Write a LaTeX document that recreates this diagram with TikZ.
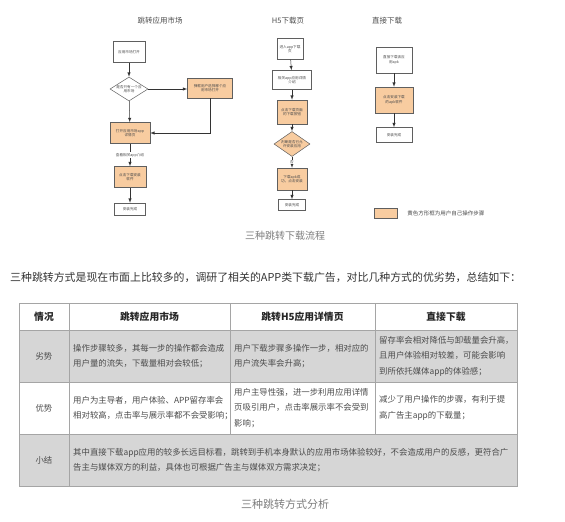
\documentclass[tikz,border=0pt]{standalone}
\usepackage{fontspec}
\setmainfont{Noto Sans CJK SC}
\usepackage{xcolor}
\usepackage{tikz}
\usetikzlibrary{shapes,arrows,positioning,calc}
\definecolor{stepfill}{RGB}{248,204,160}
\definecolor{lineclr}{RGB}{95,95,95}
\definecolor{rowgray}{RGB}{214,214,214}
\definecolor{gridgray}{RGB}{165,165,165}
\definecolor{bodytext}{RGB}{75,75,75}
\definecolor{capgray}{RGB}{125,125,125}

\begin{document}
\begin{tikzpicture}[x=1pt, y=-1pt,
        sysbox/.style={rectangle, draw=lineclr, line width=0.5pt, fill=white, align=center, inner sep=0pt, font=\fontsize{3.6}{4.6}\selectfont, text=bodytext},
        usrbox/.style={sysbox, fill=stepfill},
        choice/.style={diamond, aspect=1.6, draw=lineclr, line width=0.5pt, fill=white, align=center, inner sep=0pt, font=\fontsize{3.6}{4.6}\selectfont, text=bodytext},
        title/.style={font=\fontsize{7.5}{9}\selectfont, text=black!70},
        caption/.style={font=\fontsize{10}{12}\selectfont, text=capgray},
        arrow/.style={->, >=latex, line width=0.5pt, draw=black!80},
        cell/.style={align=left, anchor=west, inner sep=0pt, font=\fontsize{8.4}{15.5}\selectfont, text=bodytext},
        rowname/.style={inner sep=0pt, font=\fontsize{8.4}{10}\selectfont, text=bodytext},
        head/.style={inner sep=0pt, font=\fontsize{9.8}{12}\selectfont\bfseries, text=black!85}]

        \useasboundingbox (0,0) rectangle (565,522);

        % Flow 1
        \node[title] (t1) at (160,21) {跳转应用市场};
        \node[sysbox, minimum width=32, minimum height=21] (a1) at (129,52) {应用市场打开};
        \node[choice, minimum width=38, minimum height=24] (a2) at (129,89) {是否只有一个应\\用市场};
        \node[usrbox, minimum width=45, minimum height=20] (a3) at (210,88) {弹框用户选择哪个应\\用市场打开};
        \node[usrbox, minimum width=40, minimum height=21] (a4) at (130,133) {打开应用市场app\\详情页};
        \node[usrbox, minimum width=32, minimum height=21] (a5) at (130,177) {点击下载安装\\软件};
        \node[sysbox, minimum width=31, minimum height=12] (a6) at (130,209) {安装完成};

        % Flow 2
        \node[title] (t2) at (288,21) {H5下载页};
        \node[sysbox, minimum width=26, minimum height=21] (b1) at (290,49) {进入app下载\\页};
        \node[sysbox, minimum width=39, minimum height=19] (b2) at (292,80) {相关app应用详情\\介绍};
        \node[usrbox, minimum width=30, minimum height=24] (b3) at (292,112) {点击下载页面\\的下载按钮};
        \node[choice, fill=stepfill, minimum width=36, minimum height=25] (b4) at (292,144) {判断是否已允\\许安装应用};
        \node[usrbox, minimum width=30, minimum height=22] (b5) at (292,179) {下载apk成\\功，点击安装};
        \node[sysbox, minimum width=27, minimum height=11] (b6) at (292,205) {安装完成};

        % Flow 3
        \node[title] (t3) at (387,21) {直接下载};
        \node[sysbox, minimum width=36, minimum height=26] (c1) at (394,60) {直接下载该应\\用apk};
        \node[usrbox, minimum width=38, minimum height=26] (c2) at (394,100) {点击安装下载\\的apk软件};
        \node[sysbox, minimum width=36, minimum height=15] (c3) at (394,135) {安装完成};

        % Legend
        \node[usrbox, minimum width=23, minimum height=10] (key) at (385.5,213) {};
        \node[right=10pt of key, inner sep=0pt, font=\fontsize{5.5}{6.5}\selectfont, text=bodytext] (keytext) {黄色方形框为用户自己操作步骤};

        % Connections
        \draw[arrow] (a1) -- (a2);
        \draw[arrow] (a2) -- (a4);
        \draw[arrow] (a2.east) -- (a2.east -| a3.west);
        \draw[arrow] (a3.south) |- (a4.east);
        \draw[arrow] (a4) -- node[fill=white, inner sep=0.6pt, font=\fontsize{3.6}{4.6}\selectfont, text=bodytext]{查看相关app介绍} (a5);
        \draw[arrow] (a5) -- (a6);
        \draw[arrow] (b1) -- (b2);
        \draw[arrow] (b2) -- (b3);
        \draw[arrow] (b3) -- (b4);
        \draw[arrow] (b4) -- node[fill=white, inner sep=0.6pt, font=\fontsize{3.6}{4.6}\selectfont, text=bodytext]{否} (b5);
        \draw[arrow] (b5) -- (b6);
        \draw[arrow] (c1) -- (c2);
        \draw[arrow] (c2) -- (c3);

        \node[caption] (cap1) at (285,236) {三种跳转下载流程};

        \node[anchor=west, inner sep=0pt, font=\fontsize{10.9}{12}\selectfont, text=black!80] (intro) at (10,277) {三种跳转方式是现在市面上比较多的，调研了相关的APP类下载广告，对比几种方式的优劣势，总结如下：};

        % Table
        \fill[rowgray] (19,330) rectangle (517,382);
        \fill[rowgray] (19,434) rectangle (517,486);
        \draw[gridgray, line width=0.6pt] (19,303) rectangle (517,486);
        \foreach \y in {330,382,434}
            \draw[gridgray, line width=0.6pt] (19,\y) -- (517,\y);
        \draw[gridgray, line width=0.6pt] (69,303) -- (69,486);
        \foreach \x in {230,375}
            \draw[gridgray, line width=0.6pt] (\x,303) -- (\x,434);

        \node[head] (h0) at (44,316.5) {情况};
        \node[head] (h1) at (149.5,316.5) {跳转应用市场};
        \node[head] (h2) at (302.5,316.5) {跳转H5应用详情页};
        \node[head] (h3) at (446,316.5) {直接下载};

        \node[rowname] (r1) at (44,356) {劣势};
        \node[cell] (r1c1) at (73,356) {操作步骤较多，其每一步的操作都会造成\\用户量的流失，下载量相对会较低；};
        \node[cell] (r1c2) at (234,356) {用户下载步骤多操作一步，相对应的\\用户流失率会升高；};
        \node[cell] (r1c3) at (379,356) {留存率会相对降低与卸载量会升高，\\且用户体验相对较差，可能会影响\\到所依托媒体app的体验感；};

        \node[rowname] (r2) at (44,408) {优势};
        \node[cell] (r2c1) at (73,408) {用户为主导者，用户体验、APP留存率会\\相对较高，点击率与展示率都不会受影响；};
        \node[cell] (r2c2) at (234,408) {用户主导性强，进一步利用应用详情\\页吸引用户，点击率展示率不会受到\\影响；};
        \node[cell] (r2c3) at (379,408) {减少了用户操作的步骤，有利于提\\高广告主app的下载量；};

        \node[rowname] (r3) at (44,460) {小结};
        \node[cell] (r3c1) at (73,460) {其中直接下载app应用的较多长远目标看，跳转到手机本身默认的应用市场体验较好，不会造成用户的反感，更符合广\\告主与媒体双方的利益，具体也可根据广告主与媒体双方需求决定；};

        \node[caption, font=\fontsize{11}{13}\selectfont] (cap2) at (285,504) {三种跳转方式分析};

    \end{tikzpicture}
\end{document}
